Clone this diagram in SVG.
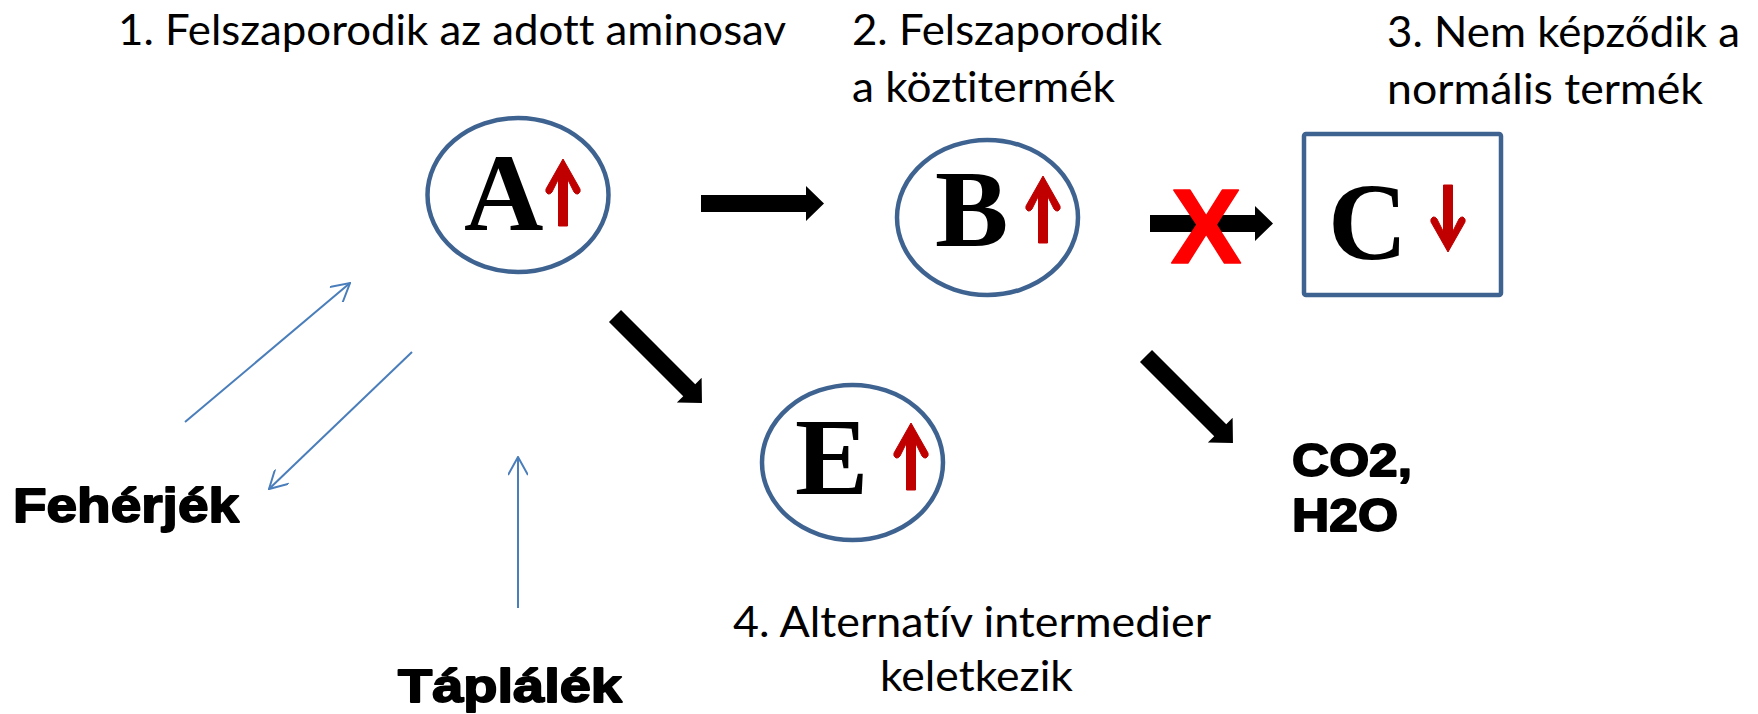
<svg xmlns="http://www.w3.org/2000/svg" xmlns:xlink="http://www.w3.org/1999/xlink" width="1758" height="714" viewBox="0 0 1758 714">
  <style>
    .bg { fill: #ffffff; }
    .node { fill: none; stroke: #3F6391; stroke-width: 4.5; }
    .letter { font-family: "Liberation Serif", "Times New Roman", serif; font-weight: bold; font-size: 110px; fill: #000; }
    .up { fill: #C00000; stroke: #C00000; stroke-width: 1; stroke-linejoin: round; }
    .note { font-family: Lato, "Open Sans", "Liberation Sans", sans-serif; font-size: 42px; fill: #000; font-variant-ligatures: none; font-feature-settings: "liga" 0, "clig" 0, "dlig" 0; }
    .heavy { font-family: "Liberation Sans", Arial, sans-serif; font-weight: bold; fill: #000; stroke: #000; stroke-width: 1.8; stroke-linejoin: round; }
    .block { fill: #000; }
    .thin { fill: none; stroke: #4A7EBB; stroke-width: 2; }
    .cross { font-family: "Liberation Sans", Arial, sans-serif; font-weight: bold; font-size: 106px; fill: #FF0000; stroke: #FF0000; stroke-width: 1.5; stroke-linejoin: round; }
  </style>
  <defs>
    <!-- thick block arrow pointing along +x, tail at origin -->
    <path id="blk" d="M0,-8.5 H105 V-17.5 L123,0 L105,17.5 V8.5 H0 Z"/>
    <!-- small red trend arrow, tip at origin, pointing up -->
    <path id="trend" d="M0,0 L17,30 Q18,33 15,35 Q12.5,35.5 11,33 L4.5,20 V67 H-4.5 V20 L-11,33 Q-12.5,35.5 -15,35 Q-18,33 -17,30 Z"/>
    <marker id="open" viewBox="0 0 20 20" refX="19" refY="10" markerWidth="20" markerHeight="20" markerUnits="userSpaceOnUse" orient="auto">
      <path d="M1,0 L19,10 L1,20" fill="none" stroke="#4A7EBB" stroke-width="2"/>
    </marker>
  </defs>

  <rect class="bg" x="0" y="0" width="1758" height="714"/>

  <!-- step labels -->
  <g id="label-1">
    <text class="note" x="118" y="45" textLength="668" lengthAdjust="spacingAndGlyphs">1. Felszaporodik az adott aminosav</text>
  </g>
  <g id="label-2">
    <text class="note" x="852" y="45" textLength="310" lengthAdjust="spacingAndGlyphs">2. Felszaporodik</text>
    <text class="note" x="852" y="102" textLength="263" lengthAdjust="spacingAndGlyphs">a köztitermék</text>
  </g>
  <g id="label-3">
    <text class="note" x="1387" y="47" textLength="353" lengthAdjust="spacingAndGlyphs">3. Nem képződik a</text>
    <text class="note" x="1387" y="104" textLength="316" lengthAdjust="spacingAndGlyphs">normális termék</text>
  </g>
  <g id="label-4">
    <text class="note" x="733" y="637" textLength="478" lengthAdjust="spacingAndGlyphs">4. Alternatív intermedier</text>
    <text class="note" x="880" y="691" textLength="193" lengthAdjust="spacingAndGlyphs">keletkezik</text>
  </g>

  <!-- connectors -->
  <g id="connectors">
    <use xlink:href="#blk" href="#blk" class="block" transform="translate(701,203.5)"/>
    <use xlink:href="#blk" href="#blk" class="block" transform="translate(1150,223.5)"/>
    <use xlink:href="#blk" href="#blk" class="block" transform="translate(615,316) rotate(45)"/>
    <use xlink:href="#blk" href="#blk" class="block" transform="translate(1146,356) rotate(45)"/>
    <line class="thin" x1="185" y1="422" x2="350" y2="283" marker-end="url(#open)"/>
    <line class="thin" x1="412" y1="352" x2="269" y2="489" marker-end="url(#open)"/>
    <line class="thin" x1="518" y1="608" x2="518" y2="457" marker-end="url(#open)"/>
    <text class="cross" x="1206" y="263" text-anchor="middle">X</text>
  </g>

  <!-- metabolite nodes -->
  <g id="node-A">
    <ellipse class="node" cx="518" cy="195" rx="90.5" ry="77"/>
    <text class="letter" x="464" y="230">A</text>
    <use xlink:href="#trend" href="#trend" class="up" transform="translate(563,159)"/>
  </g>
  <g id="node-B">
    <ellipse class="node" cx="987.5" cy="217.5" rx="90.5" ry="77.5"/>
    <text class="letter" x="935" y="246">B</text>
    <use xlink:href="#trend" href="#trend" class="up" transform="translate(1043,176)"/>
  </g>
  <g id="node-C">
    <rect class="node" x="1304" y="134" width="197" height="161" rx="2"/>
    <text class="letter" x="1328" y="259">C</text>
    <use xlink:href="#trend" href="#trend" class="up" transform="translate(1448,252) rotate(180)"/>
  </g>
  <g id="node-E">
    <ellipse class="node" cx="852.5" cy="462.5" rx="90.5" ry="77.5"/>
    <text class="letter" x="795" y="494">E</text>
    <use xlink:href="#trend" href="#trend" class="up" transform="translate(911,423)"/>
  </g>

  <!-- sources and end products -->
  <g id="node-feherjek">
    <text class="heavy" x="13" y="522" font-size="49" textLength="226" lengthAdjust="spacingAndGlyphs">Fehérjék</text>
  </g>
  <g id="node-taplalek">
    <text class="heavy" x="398" y="702" font-size="47" textLength="224" lengthAdjust="spacingAndGlyphs">Táplálék</text>
  </g>
  <g id="node-co2-h2o">
    <text class="heavy" x="1292" y="476" font-size="46" textLength="120" lengthAdjust="spacingAndGlyphs">CO2,</text>
    <text class="heavy" x="1292" y="531" font-size="46" textLength="106" lengthAdjust="spacingAndGlyphs">H2O</text>
  </g>
</svg>
